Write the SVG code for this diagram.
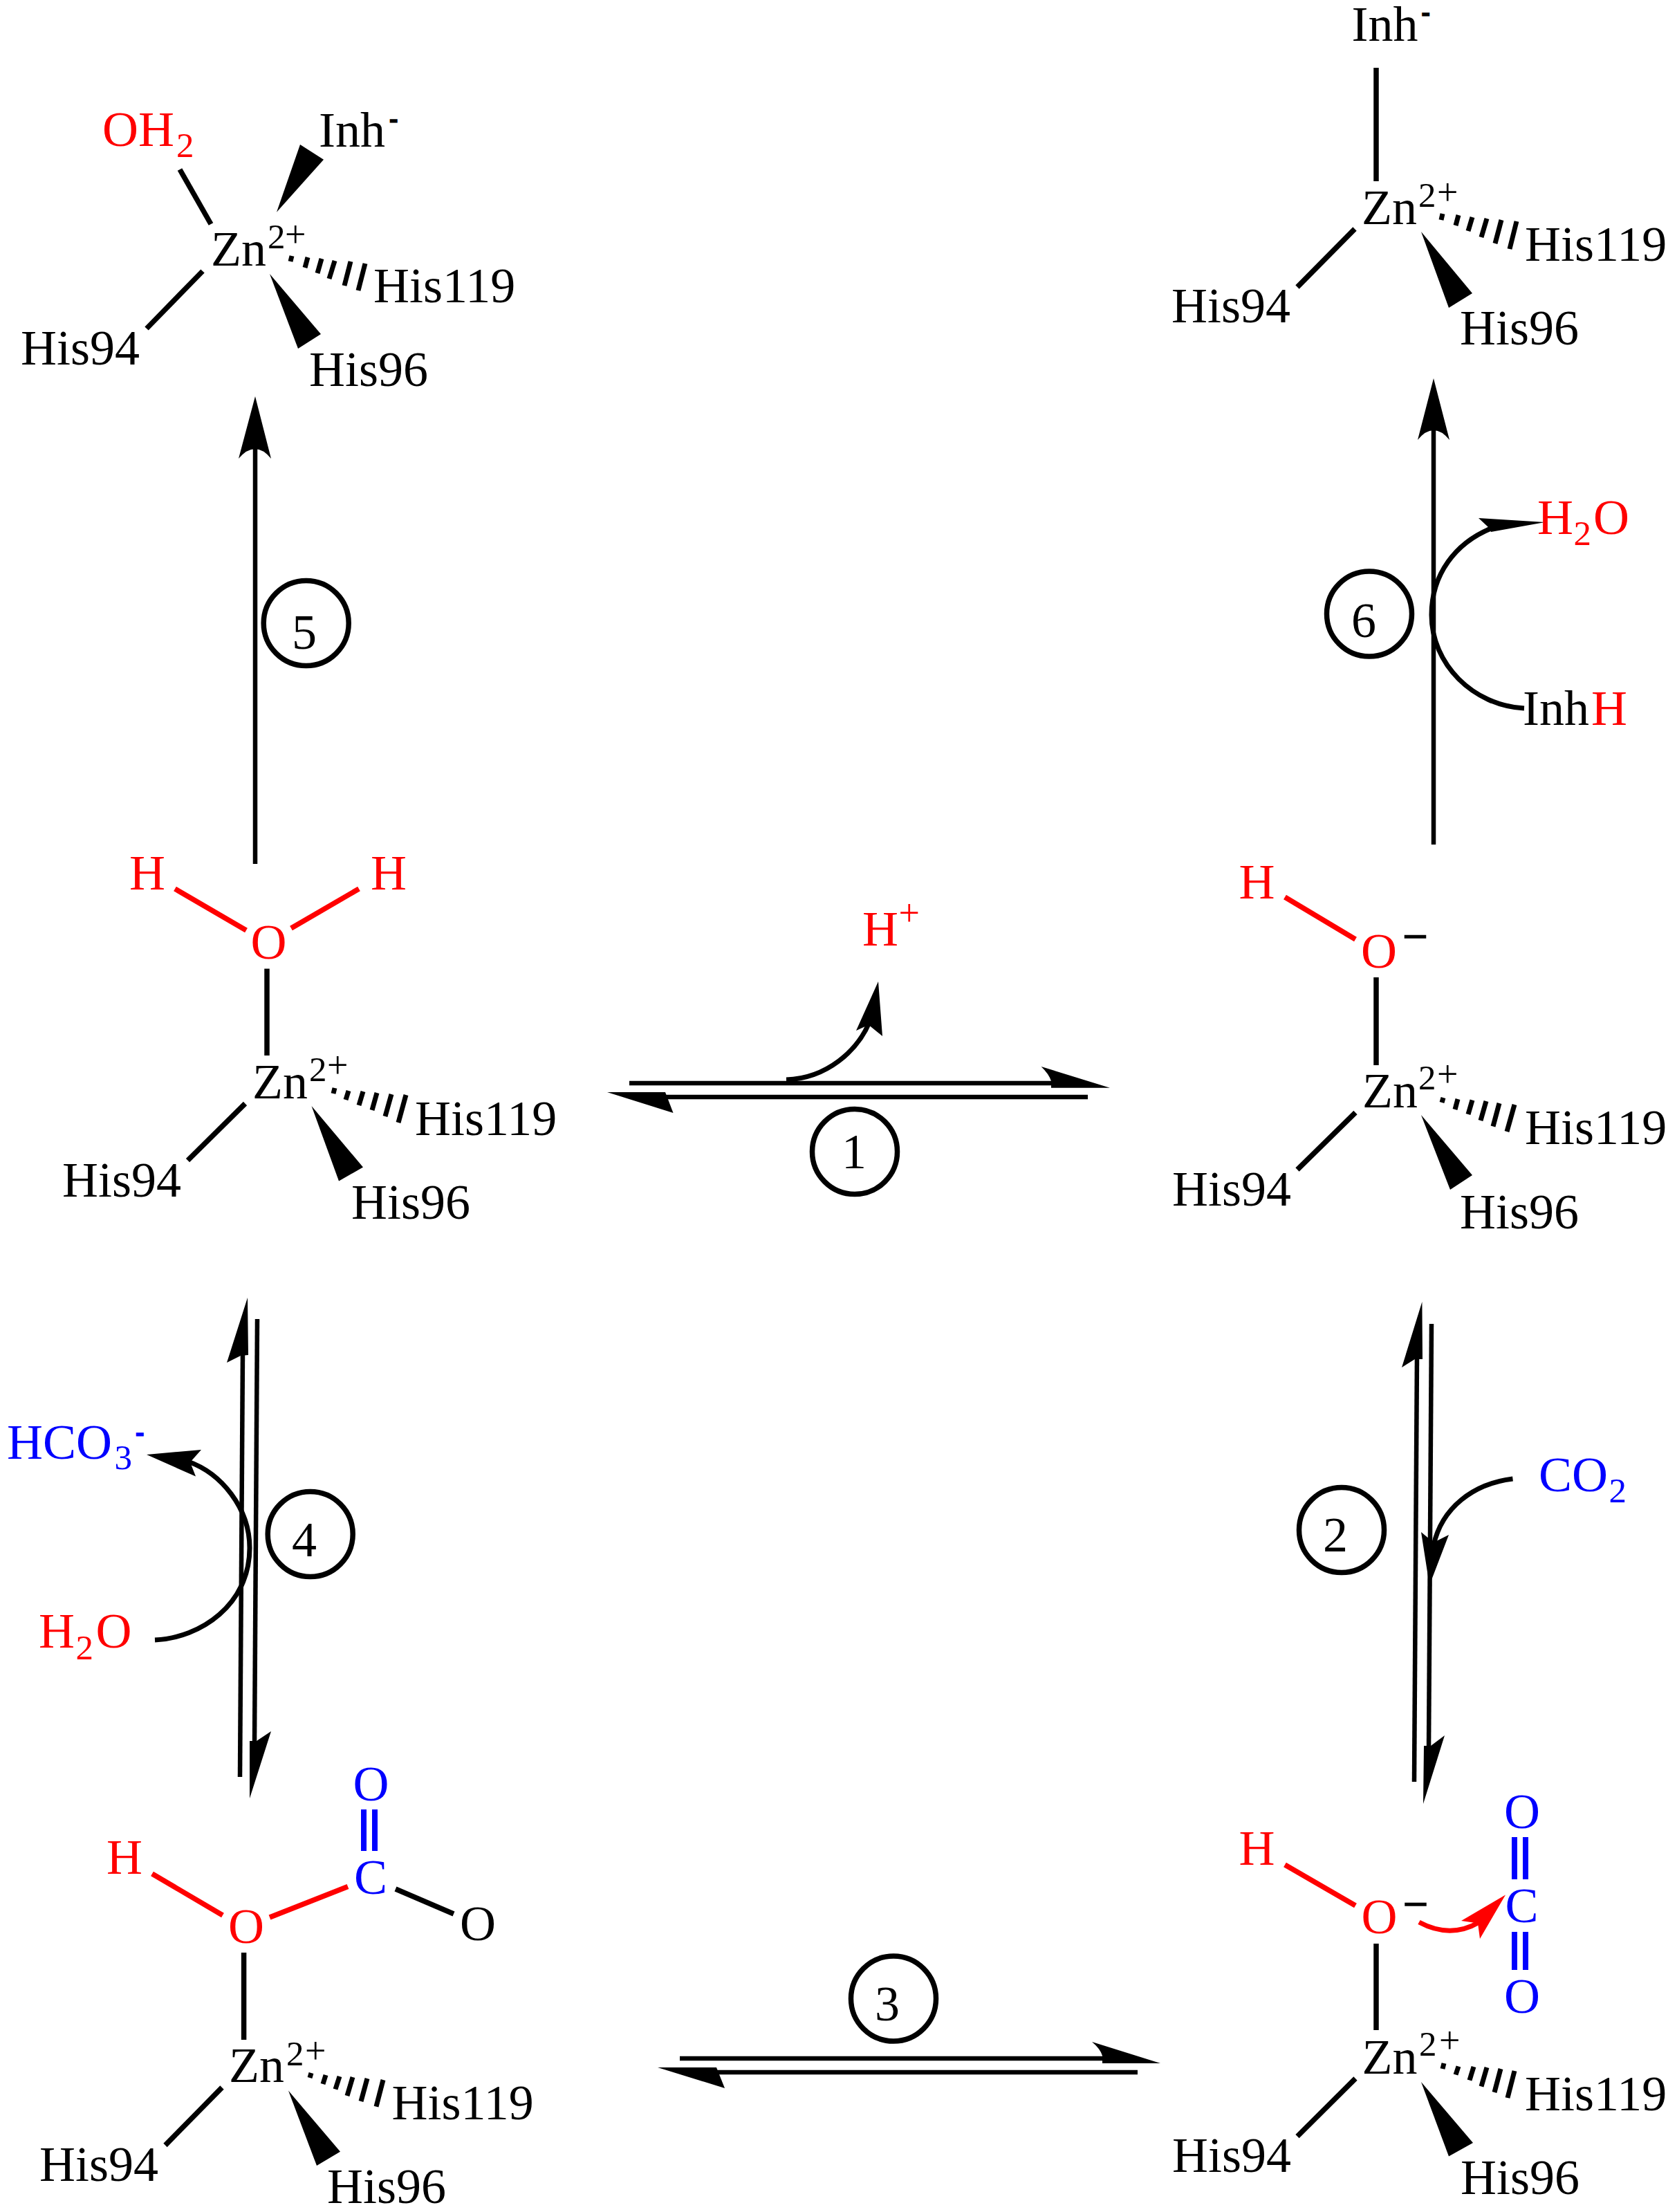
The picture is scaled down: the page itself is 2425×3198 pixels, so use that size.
<svg xmlns="http://www.w3.org/2000/svg" width="2425" height="3198" viewBox="0 0 2425 3198">
<style>
text{font-family:"Liberation Serif","Times New Roman",serif;font-size:72px;fill:#000}
.s{font-size:51px}
.p{font-size:54px}
.m{font-size:31px;stroke:#000;stroke-width:3px}
.b .m{stroke:#00f}
.chg{font-family:"Liberation Sans",Arial,sans-serif;font-size:54px;stroke-width:1.5px}
.r,.r tspan{fill:#f00}
.b,.b tspan{fill:#00f}
text.chg{stroke:#000}
.bond{stroke:#000;stroke-width:7.5;fill:none}
.rb{stroke:#f00;stroke-width:7.5;fill:none}
.bb{stroke:#00f;stroke-width:8;fill:none}
.hash{stroke:#000;stroke-width:7;fill:none}
.w{fill:#000}
.ln{stroke:#000;stroke-width:6.5;fill:none}
.cv{stroke:#000;stroke-width:7;fill:none}
.rcv{stroke:#f00;stroke-width:7;fill:none}
.c{stroke:#000;stroke-width:7.5;fill:none}
.h{fill:#000}
</style>
<rect width="2425" height="3198" fill="#fff"/>
<g id="connectors">
<!-- step 5 -->
<line class="ln" x1="369" y1="1249" x2="369" y2="645"/>
<path class="h" d="M369,573 L392,663 Q369,635 345,663 Z"/>
<!-- step 6 -->
<line class="ln" x1="2073" y1="1221" x2="2073" y2="618"/>
<path class="h" d="M2073,547 L2096,636 Q2073,608 2050,636 Z"/>
<path class="cv" d="M2204,1024 C2130,1020 2070,960 2070,889 C2070,830 2105,785 2156,764"/>
<path class="h" d="M2234,755 L2138,749 L2152.5,762.5 L2156,769 Z"/>
<!-- step 1 -->
<line class="ln" x1="910" y1="1566" x2="1525" y2="1566"/>
<path class="h" d="M1605,1572.7 L1505.6,1542 Q1517,1553 1520,1563 L1520,1572.7 Z"/>
<line class="ln" x1="957" y1="1586" x2="1573" y2="1586"/>
<path class="h" d="M878,1579 L962,1579 L973.5,1609 Z"/>
<path class="cv" d="M1137,1561 C1195,1559 1240,1520 1258,1476"/>
<path class="h" d="M1270,1419 L1276,1498 L1256,1481.7 L1238,1490 Z"/>
<!-- step 3 -->
<line class="ln" x1="983" y1="2976" x2="1600" y2="2976"/>
<path class="h" d="M1678,2983 L1579,2952 Q1591,2962 1594,2972 L1594,2983 Z"/>
<line class="ln" x1="1030" y1="2996" x2="1645" y2="2996"/>
<path class="h" d="M951,2989 L1036,2989 L1048,3019 Z"/>
<!-- step 4 -->
<line class="ln" x1="351" y1="1955" x2="347" y2="2569"/>
<path class="h" d="M358,1876 L359,1959 L348,1960 L328,1970 Z"/>
<line class="ln" x1="372" y1="1907" x2="368" y2="2522"/>
<path class="h" d="M361,2600 L361,2517 L371,2517 L392,2503 Z"/>
<path class="cv" d="M224,2371 C290,2368 361,2320 361,2238 C361,2180 320,2130 272,2113"/>
<path class="h" d="M212,2103 L291,2096 L275,2114 L283,2134.6 Z"/>
<!-- step 2 -->
<line class="ln" x1="2049" y1="1960" x2="2045" y2="2576"/>
<path class="h" d="M2056.4,1882 L2057,1965 L2046,1965 L2027,1977 Z"/>
<line class="ln" x1="2070" y1="1914" x2="2066" y2="2530"/>
<path class="h" d="M2058,2608 L2059,2524 L2069,2524 L2089,2509 Z"/>
<path class="cv" d="M2187.5,2138 C2130,2145 2085,2180 2073,2234"/>
<path class="h" d="M2067,2292 L2055,2215 L2073,2230 L2095,2219 Z"/>
<!-- charge transfer -->
<path class="rcv" d="M2052,2779 C2080,2794 2110,2796 2139,2779"/>
<path d="M2177,2739.5 L2113,2777 L2137,2780.5 L2140,2803 Z" fill="#f00"/>
</g>

<g id="complex-top-left">
<text class="r" x="148" y="210.7">OH<tspan class="s" x="255" y="226.7">2</tspan></text>
<text x="461" y="211.7">Inh<tspan class="m" x="564" y="182">-</tspan></text>
<line class="bond" x1="260" y1="245" x2="305" y2="324"/>
<polygon class="w" points="400,306.7 434,209 468,230.7"/>
<text x="305" y="384">Zn<tspan class="s" x="387" y="359">2</tspan><tspan class="p" x="412" y="357">+</tspan></text>
<line class="hash" x1="422" y1="370" x2="420" y2="378"/>
<line class="hash" x1="445" y1="372" x2="441" y2="387"/>
<line class="hash" x1="465" y1="374" x2="459" y2="395"/>
<line class="hash" x1="484" y1="377" x2="476" y2="403"/>
<line class="hash" x1="507" y1="378" x2="498" y2="413"/>
<line class="hash" x1="528" y1="381" x2="518" y2="420"/>
<text x="540" y="437">His119</text>
<polygon class="w" points="390,396 464,483 431,504"/>
<text x="447" y="558">His96</text>
<line class="bond" x1="293" y1="392" x2="212" y2="475"/>
<text x="30" y="527">His94</text>
</g>

<g id="complex-top-right">
<text x="1954.5" y="59">Inh<tspan class="m" x="2056.5" y="28">-</tspan></text>
<line class="bond" x1="1990" y1="98" x2="1990" y2="262"/>
<text x="1969" y="324">Zn<tspan class="s" x="2051" y="299">2</tspan><tspan class="p" x="2078" y="296">+</tspan></text>
<line class="hash" x1="2086" y1="309" x2="2084" y2="318"/>
<line class="hash" x1="2109" y1="311" x2="2105" y2="326"/>
<line class="hash" x1="2129" y1="314" x2="2123" y2="334"/>
<line class="hash" x1="2150" y1="316" x2="2142" y2="343"/>
<line class="hash" x1="2171" y1="318" x2="2162" y2="352"/>
<line class="hash" x1="2193" y1="320" x2="2183" y2="360"/>
<text x="2205" y="377">His119</text>
<polygon class="w" points="2055,335 2129,424 2095,445"/>
<text x="2111" y="498">His96</text>
<line class="bond" x1="1959" y1="331" x2="1876" y2="415"/>
<text x="1694" y="466">His94</text>
</g>

<g id="complex-middle-left">
<text class="r" x="187" y="1286">H</text>
<text class="r" x="536" y="1286">H</text>
<line class="rb" x1="253" y1="1285" x2="356" y2="1345"/>
<line class="rb" x1="519" y1="1285" x2="421" y2="1342"/>
<text class="r" x="362.5" y="1386">O</text>
<line class="bond" x1="386" y1="1400.5" x2="386" y2="1526"/>
<text x="365" y="1588">Zn<tspan class="s" x="447" y="1563">2</tspan><tspan class="p" x="473" y="1558">+</tspan></text>
<line class="hash" x1="484" y1="1573" x2="482" y2="1581"/>
<line class="hash" x1="504" y1="1577" x2="500" y2="1590"/>
<line class="hash" x1="525" y1="1578" x2="519" y2="1598"/>
<line class="hash" x1="545" y1="1580" x2="538" y2="1605"/>
<line class="hash" x1="566" y1="1582" x2="557" y2="1614"/>
<line class="hash" x1="587" y1="1583" x2="576" y2="1623"/>
<text x="600" y="1641">His119</text>
<polygon class="w" points="450.5,1599 525,1687.5 490,1707.5"/>
<text x="508" y="1762">His96</text>
<line class="bond" x1="354.5" y1="1595.5" x2="271.5" y2="1677.6"/>
<text x="90" y="1730">His94</text>
</g>

<g id="complex-middle-right">
<text class="r" x="1791.5" y="1299">H</text>
<line class="rb" x1="1858" y1="1297" x2="1960" y2="1358"/>
<text class="r" x="1968" y="1399">O</text>
<text class="chg" x="2031.5" y="1368">–</text>
<line class="bond" x1="1990" y1="1413" x2="1990" y2="1540"/>
<text x="1970" y="1601">Zn<tspan class="s" x="2051" y="1575">2</tspan><tspan class="p" x="2078" y="1571">+</tspan></text>
<line class="hash" x1="2087" y1="1587" x2="2085" y2="1594"/>
<line class="hash" x1="2108" y1="1589" x2="2104" y2="1604"/>
<line class="hash" x1="2129" y1="1590.5" x2="2123" y2="1611"/>
<line class="hash" x1="2149" y1="1592" x2="2141" y2="1620"/>
<line class="hash" x1="2168" y1="1595" x2="2159" y2="1628.5"/>
<line class="hash" x1="2190" y1="1597" x2="2179" y2="1636"/>
<text x="2205" y="1654">His119</text>
<polygon class="w" points="2055,1612 2129,1699 2097,1720"/>
<text x="2111" y="1776">His96</text>
<line class="bond" x1="1960" y1="1608.5" x2="1876" y2="1691"/>
<text x="1695" y="1743">His94</text>
</g>

<g id="complex-bottom-left">
<text class="b" x="510.5" y="2603">O</text>
<line class="bb" x1="526" y1="2616" x2="526" y2="2676"/>
<line class="bb" x1="542" y1="2616" x2="542" y2="2676"/>
<text class="b" x="512" y="2738">C</text>
<text class="r" x="154" y="2709">H</text>
<line class="rb" x1="220" y1="2709" x2="322" y2="2769"/>
<text class="r" x="330" y="2809">O</text>
<line class="rb" x1="390" y1="2772" x2="503" y2="2727.6"/>
<line class="bond" x1="572" y1="2731" x2="656" y2="2767"/>
<text x="665" y="2805">O</text>
<line class="bond" x1="352.6" y1="2823" x2="352.6" y2="2949"/>
<text x="331" y="3010">Zn<tspan class="s" x="414" y="2986">2</tspan><tspan class="p" x="441" y="2983">+</tspan></text>
<line class="hash" x1="450" y1="2997" x2="448" y2="3004"/>
<line class="hash" x1="471" y1="3000" x2="467" y2="3013"/>
<line class="hash" x1="491" y1="3002" x2="485" y2="3020.5"/>
<line class="hash" x1="510" y1="3003" x2="502" y2="3030"/>
<line class="hash" x1="531" y1="3005" x2="522" y2="3038"/>
<line class="hash" x1="554" y1="3007" x2="544" y2="3045.6"/>
<text x="566.4" y="3064">His119</text>
<polygon class="w" points="417,3022.6 492,3110.7 458,3131"/>
<text x="473" y="3185">His96</text>
<line class="bond" x1="321" y1="3018" x2="239" y2="3101.5"/>
<text x="57" y="3152.7">His94</text>
</g>

<g id="complex-bottom-right">
<text class="b" x="2175" y="2643">O</text>
<line class="bb" x1="2190" y1="2656" x2="2190" y2="2717"/>
<line class="bb" x1="2206" y1="2656" x2="2206" y2="2717"/>
<text class="b" x="2176.5" y="2779">C</text>
<line class="bb" x1="2190" y1="2793" x2="2190" y2="2848"/>
<line class="bb" x1="2206" y1="2793" x2="2206" y2="2848"/>
<text class="b" x="2175" y="2910">O</text>
<text class="r" x="1791.5" y="2696">H</text>
<line class="rb" x1="1858" y1="2696" x2="1960" y2="2755"/>
<text class="r" x="1968.5" y="2795">O</text>
<text class="chg" x="2032" y="2766.5">–</text>
<line class="bond" x1="1990" y1="2810" x2="1990" y2="2935"/>
<text x="1969.5" y="2998">Zn<tspan class="s" x="2052" y="2972">2</tspan><tspan class="p" x="2081" y="2968">+</tspan></text>
<line class="hash" x1="2088" y1="2983" x2="2086" y2="2991"/>
<line class="hash" x1="2109" y1="2987.5" x2="2105" y2="2999.5"/>
<line class="hash" x1="2131" y1="2988" x2="2125" y2="3007.5"/>
<line class="hash" x1="2150" y1="2989" x2="2142" y2="3016.5"/>
<line class="hash" x1="2170" y1="2991" x2="2161" y2="3025"/>
<line class="hash" x1="2190" y1="2994" x2="2180" y2="3033"/>
<text x="2205" y="3051">His119</text>
<polygon class="w" points="2055,3010 2130,3098 2095,3117.5"/>
<text x="2112" y="3172">His96</text>
<line class="bond" x1="1960" y1="3005" x2="1876" y2="3088.6"/>
<text x="1695" y="3140">His94</text>
</g>

<g id="step-1"><ellipse class="c" cx="1236" cy="1665" rx="61.5" ry="61.5"/><text x="1217" y="1689">1</text></g>
<g id="step-2"><ellipse class="c" cx="1940" cy="2212" rx="61.5" ry="61.5"/><text x="1913" y="2243">2</text></g>
<g id="step-3"><ellipse class="c" cx="1292" cy="2889.5" rx="61.5" ry="61.5"/><text x="1265" y="2921">3</text></g>
<g id="step-4"><ellipse class="c" cx="448.7" cy="2218" rx="61.5" ry="61.5"/><text x="422" y="2249.5">4</text></g>
<g id="step-5"><ellipse class="c" cx="442.7" cy="901" rx="61.5" ry="61.5"/><text x="422" y="938">5</text></g>
<g id="step-6"><ellipse class="c" cx="1980" cy="887.5" rx="61.5" ry="61.5"/><text x="1954" y="921">6</text></g>

<g id="reagent-h-plus"><text class="r" x="1247" y="1367">H<tspan class="p" x="1299.5" y="1337.5">+</tspan></text></g>
<g id="reagent-h2o-top"><text class="r" x="2223" y="771.5">H<tspan class="s" x="2275.5" y="787.5">2</tspan><tspan x="2304" y="771.5">O</tspan></text></g>
<g id="reagent-inhh"><text x="2202" y="1047.5">Inh<tspan x="2301" style="fill:#f00">H</tspan></text></g>
<g id="reagent-co2"><text class="b" x="2225" y="2156">CO<tspan class="s" x="2326.5" y="2172">2</tspan></text></g>
<g id="reagent-hco3"><text class="b" x="10" y="2109">HCO<tspan class="s" x="165.5" y="2124">3</tspan><tspan class="m" x="197" y="2081">-</tspan></text></g>
<g id="reagent-h2o-left"><text class="r" x="56" y="2382">H<tspan class="s" x="109.5" y="2399">2</tspan><tspan x="138.6" y="2382">O</tspan></text></g>
</svg>
